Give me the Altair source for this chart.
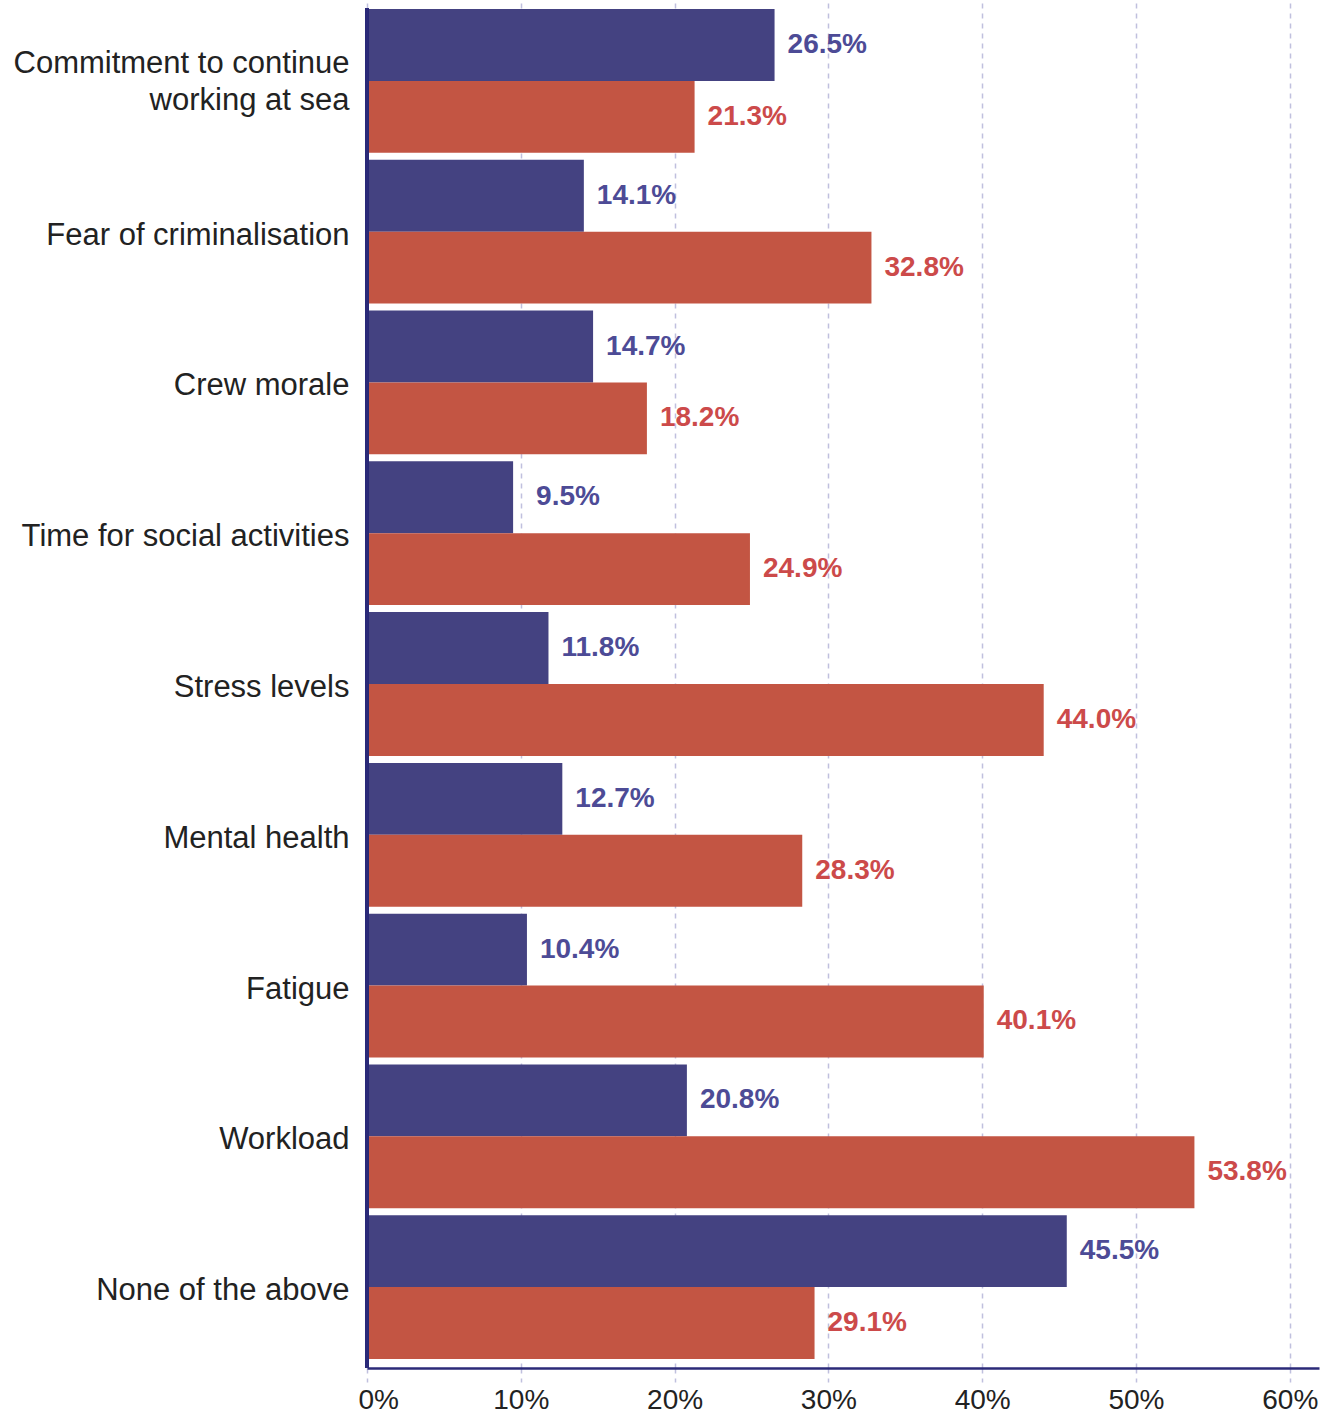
import altair as alt
import pandas as pd

categories = [
    "Commitment to continue|working at sea",
    "Fear of criminalisation",
    "Crew morale",
    "Time for social activities",
    "Stress levels",
    "Mental health",
    "Fatigue",
    "Workload",
    "None of the above",
]
series_names = ["Series 1", "Series 2"]
series1 = [26.5, 14.1, 14.7, 9.5, 11.8, 12.7, 10.4, 20.8, 45.5]
series2 = [21.3, 32.8, 18.2, 24.9, 44.0, 28.3, 40.1, 53.8, 29.1]
tick_values = [0, 10, 20, 30, 40, 50, 60]

bar_colors = ["#444281", "#c35543"]
label_colors = ["#4d4b96", "#cc4a4a"]

rows = []
for i, c in enumerate(categories):
    rows.append({"category": c, "series": series_names[0], "value": series1[i]})
    rows.append({"category": c, "series": series_names[1], "value": series2[i]})
df = pd.DataFrame(rows)

FONT = "Liberation Sans"
navy = "#2b2a78"
grid = "#c0c0de"

y_enc = alt.Y(
    "category:N",
    sort=categories,
    scale=alt.Scale(paddingInner=0.0464, paddingOuter=0.06),
    axis=alt.Axis(
        title=None,
        domain=False,
        ticks=False,
        grid=False,
        labelExpr="split(datum.label, '|')",
        labelFont=FONT,
        labelFontSize=31,
        labelColor="#222222",
        labelPadding=18,
        labelLineHeight=37,
        labelOffset={"condition": {"test": "indexof(datum.value, '|') >= 0", "value": -17}, "value": 4},
        labelLimit=400,
    ),
)
x_enc = alt.X(
    "value:Q",
    scale=alt.Scale(domain=[0, 61.9], nice=False, zero=True),
    axis=alt.Axis(
        title=None,
        values=tick_values,
        labelExpr="datum.value + '%'",
        labelFont=FONT,
        labelFontSize=28,
        labelColor="#222222",
        labelPadding=4,
        labelFlush=True,
        labelFlushOffset=9,
        grid=True,
        gridColor=grid,
        gridDash=[5, 5],
        gridWidth=1.5,
        ticks=True,
        tickColor=grid,
        tickDash=[5, 5],
        tickSize=14,
        tickWidth=1.5,
        domain=True,
        domainColor=navy,
        domainWidth=2.5,
    ),
)
yoff = alt.YOffset("series:N", sort=series_names, scale=alt.Scale(paddingInner=0, paddingOuter=0))

bars = alt.Chart(df).mark_bar().encode(
    y=y_enc,
    x=x_enc,
    yOffset=yoff,
    color=alt.Color("series:N", sort=series_names,
                    scale=alt.Scale(domain=series_names, range=bar_colors), legend=None),
)

labels = alt.Chart(df).transform_calculate(
    label="format(datum.value, '.1f') + '%'"
).mark_text(
    align="left", baseline="middle", dx=alt.ExprRef("datum.value < 10 ? 23 : 13"),
    font=FONT, fontSize=28, fontWeight="bold"
).encode(
    y=alt.Y("category:N", sort=categories),
    x=alt.X("value:Q"),
    yOffset=alt.YOffset("series:N", sort=series_names),
    text="label:N",
    color=alt.Color("series:N", sort=series_names,
                    scale=alt.Scale(domain=series_names, range=label_colors), legend=None),
)

left_line = alt.Chart(df).mark_rule(color=navy, strokeWidth=2.5).encode(
    x=alt.value(0), y=alt.value(8), y2=alt.value(1368)
)

chart = alt.layer(bars, labels, left_line).resolve_scale(color="independent").properties(
    width=952,
    height=1368,
    background="white",
    autosize=alt.AutoSizeParams(type="none"),
    padding={"left": 367, "top": 0, "right": 16, "bottom": 50},
).configure_view(strokeWidth=0, stroke="transparent")

chart.save("out.html", embed_options={"renderer": "svg", "actions": False})
